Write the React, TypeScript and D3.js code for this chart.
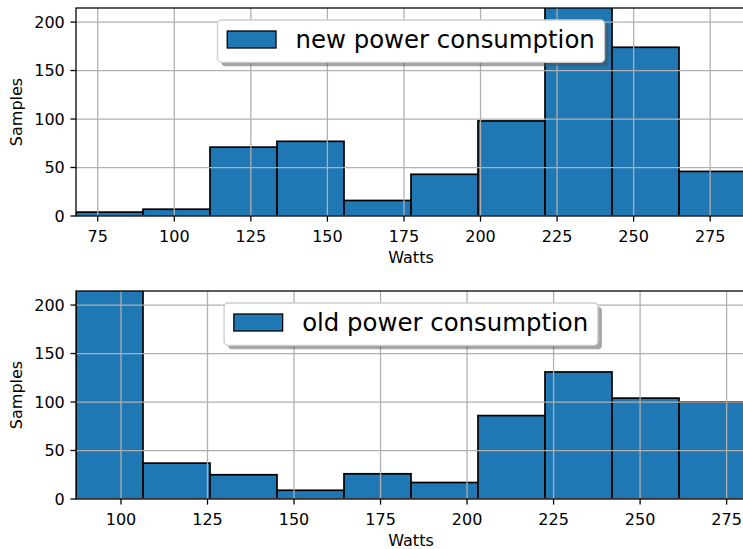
import React, { useRef, useLayoutEffect, useState } from 'react';
import * as d3 from 'd3';

// ---- data ----
const newCounts = [4, 7, 71, 77, 16, 43, 98, 245, 174, 46];
const newRange: [number, number] = [67.9, 286.7];
const oldCounts = [262, 37, 25, 9, 26, 17, 86, 131, 104, 100];
const oldRange: [number, number] = [87.0, 280.6];
const newXTicks = [75, 100, 125, 150, 175, 200, 225, 250, 275];
const oldXTicks = [100, 125, 150, 175, 200, 225, 250, 275];
const yTicks = [0, 50, 100, 150, 200];
const yMax = 214.5;
const legendLabels = ['new power consumption', 'old power consumption'];
const xLabel = 'Watts';
const yLabel = 'Samples';

const FONT = "'DejaVu Sans', Verdana, sans-serif";
const BAR = '#1f77b4';
const GRID = '#b0b0b0';

type PanelProps = {
  counts: number[];
  range: [number, number];
  xTicks: number[];
  label: string;
  top: number;
  id: string;
};

function Panel({ counts, range, xTicks, label, top, id }: PanelProps) {
  const left = 76;
  const width = 670;
  const height = 208;
  const bottom = top + height;
  const x = d3.scaleLinear().domain(range).range([left, left + width]);
  const y = d3.scaleLinear().domain([0, yMax]).range([bottom, top]);
  const n = counts.length;
  const edges = d3.range(n + 1).map((i) => range[0] + ((range[1] - range[0]) * i) / n);

  const textRef = useRef<SVGTextElement | null>(null);
  const [tw, setTw] = useState(label.length * 14);
  useLayoutEffect(() => {
    if (textRef.current) setTw(textRef.current.getComputedTextLength());
  }, [label]);

  const fs = 24.4;
  const pad = 0.4 * fs;
  const handleLen = 2 * fs;
  const handleGap = 0.8 * fs;
  const legW = pad * 2 + handleLen + handleGap + tw;
  const legH = 42.3;
  const legX = left + width / 2 - legW / 2;
  const legY = top + 12;
  const tickLen = 5.6;
  const lw = 1.28;

  return (
    <g>
      <defs>
        <clipPath id={id}>
          <rect x={left} y={top} width={width} height={height} />
        </clipPath>
      </defs>
      <g clipPath={`url(#${id})`}>
        {counts.map((c, i) => (
          <rect
            key={i}
            x={x(edges[i])}
            y={y(c)}
            width={x(edges[i + 1]) - x(edges[i])}
            height={y(0) - y(c)}
            fill={BAR}
            stroke="#000"
            strokeWidth={1.7}
          />
        ))}
        {xTicks.map((t) => (
          <line key={'gx' + t} x1={x(t)} x2={x(t)} y1={top} y2={bottom} stroke={GRID} strokeWidth={lw} />
        ))}
        {yTicks.map((t) => (
          <line key={'gy' + t} x1={left} x2={left + width} y1={y(t)} y2={y(t)} stroke={GRID} strokeWidth={lw} />
        ))}
      </g>
      <rect x={left} y={top} width={width} height={height} fill="none" stroke="#000" strokeWidth={lw} />
      {xTicks.map((t) => (
        <g key={'tx' + t}>
          <line x1={x(t)} x2={x(t)} y1={bottom} y2={bottom + tickLen} stroke="#000" strokeWidth={lw} />
          <text x={x(t)} y={bottom + 25.5} textAnchor="middle" fontSize={16} fontFamily={FONT} fill="#000">
            {t}
          </text>
        </g>
      ))}
      {yTicks.map((t) => (
        <g key={'ty' + t}>
          <line x1={left - tickLen} x2={left} y1={y(t)} y2={y(t)} stroke="#000" strokeWidth={lw} />
          <text x={left - 11.2} y={y(t)} dy="0.36em" textAnchor="end" fontSize={16} fontFamily={FONT} fill="#000">
            {t}
          </text>
        </g>
      ))}
      <text x={left + width / 2} y={bottom + 47} textAnchor="middle" fontSize={16} fontFamily={FONT} fill="#000">
        {xLabel}
      </text>
      <text
        transform={`translate(22,${top + height / 2}) rotate(-90)`}
        textAnchor="middle"
        fontSize={16}
        fontFamily={FONT}
        fill="#000"
      >
        {yLabel}
      </text>
      {/* legend */}
      <rect x={legX + 4} y={legY + 4} width={legW} height={legH} rx={4} fill="rgb(77,77,77)" fillOpacity={0.5} />
      <rect
        x={legX}
        y={legY}
        width={legW}
        height={legH}
        rx={4}
        fill="#fff"
        stroke="#cccccc"
        strokeWidth={lw}
      />
      <rect x={legX + pad} y={legY + 11} width={handleLen} height={17} fill={BAR} stroke="#000" strokeWidth={lw} />
      <text
        ref={textRef}
        x={legX + pad + handleLen + handleGap}
        y={legY + 27.5}
        fontSize={fs}
        fontFamily={FONT}
        fill="#000"
      >
        {label}
      </text>
    </g>
  );
}

export default function App() {
  return (
    <svg
      width={743}
      height={549}
      style={{ position: 'absolute', left: 0, top: 0, background: '#fff' }}
    >
      <rect x={0} y={0} width={743} height={549} fill="#fff" />
      <Panel counts={newCounts} range={newRange} xTicks={newXTicks} label={legendLabels[0]} top={8} id="clipTop" />
      <Panel counts={oldCounts} range={oldRange} xTicks={oldXTicks} label={legendLabels[1]} top={291} id="clipBottom" />
    </svg>
  );
}
